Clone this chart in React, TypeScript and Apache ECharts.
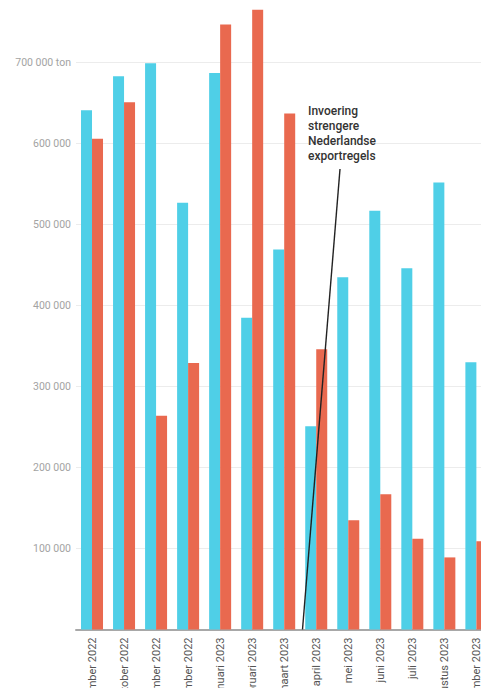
import React, { useEffect, useRef } from "react";
import * as echarts from "echarts";

const categories = [
  "september 2022",
  "oktober 2022",
  "november 2022",
  "december 2022",
  "januari 2023",
  "februari 2023",
  "maart 2023",
  "april 2023",
  "mei 2023",
  "juni 2023",
  "juli 2023",
  "augustus 2023",
  "september 2023",
];

const blueValues = [641000, 683000, 699000, 527000, 687000, 385000, 469000, 251000, 435000, 517000, 446000, 552000, 330000];
const orangeValues = [606000, 651000, 264000, 329000, 747000, 765000, 637000, 346000, 135000, 167000, 112000, 89000, 109000];

const annotationLines = ["Invoering", "strengere", "Nederlandse", "exportregels"];

const fmt = (v: number) => {
  if (v === 0 || v >= 800000) return "";
  const s = String(Math.round(v)).replace(/\B(?=(\d{3})+(?!\d))/g, " ");
  return v === 700000 ? s + " ton" : s;
};

export default function App() {
  const ref = useRef<HTMLDivElement>(null);
  useEffect(() => {
    if (!ref.current) return;
    const chart = echarts.init(ref.current, undefined, { renderer: "svg" });
    chart.setOption({
      animation: false,
      textStyle: { fontFamily: "Roboto" },
      grid: {
        left: 76,
        right: -11.4,
        top: -18.5,
        bottom: 58.5,
        containLabel: false,
        outerBoundsMode: "none",
      },
      xAxis: {
        type: "category",
        data: categories,
        axisLine: { lineStyle: { color: "#a8a8a8", width: 2 } },
        axisTick: { alignWithLabel: true, length: 5, lineStyle: { color: "#666", width: 1 } },
        axisLabel: {
          rotate: 90,
          fontSize: 11,
          color: "#555",
          margin: 8,
          fontFamily: "Roboto",
          interval: 0,
        },
      },
      yAxis: {
        type: "value",
        min: 0,
        max: 800000,
        interval: 100000,
        axisLine: { show: false },
        axisTick: { show: false },
        splitLine: { lineStyle: { color: "#ececec", width: 1 } },
        axisLabel: {
          formatter: fmt,
          fontSize: 10.5,
          color: "#a3a3a3",
          margin: 5,
          fontFamily: "Roboto",
        },
      },
      series: [
        {
          type: "bar",
          data: blueValues,
          barWidth: 11,
          barGap: "0%",
          itemStyle: { color: "#4fcfe7" },
        },
        {
          type: "bar",
          data: orangeValues,
          barWidth: 11,
          barGap: "0%",
          itemStyle: { color: "#e9694f" },
        },
      ],
      graphic: [
        {
          type: "line",
          shape: { x1: 340, y1: 169, x2: 302.5, y2: 629.5 },
          style: { stroke: "#222", lineWidth: 1.4 },
          z: 100,
        },
        ...annotationLines.map((t, i) => ({
          type: "text",
          left: 308,
          top: 105 + i * 15,
          style: {
            text: t,
            fill: "#333",
            font: "500 12px Roboto",
          },
          z: 100,
        })),
      ],
    });
    return () => chart.dispose();
  }, []);
  return (
    <div style={{ position: "fixed", left: 0, top: 0, width: 481, height: 688, overflow: "hidden", background: "#fff" }}>
      <div ref={ref} style={{ width: 481, height: 688 }} />
    </div>
  );
}
